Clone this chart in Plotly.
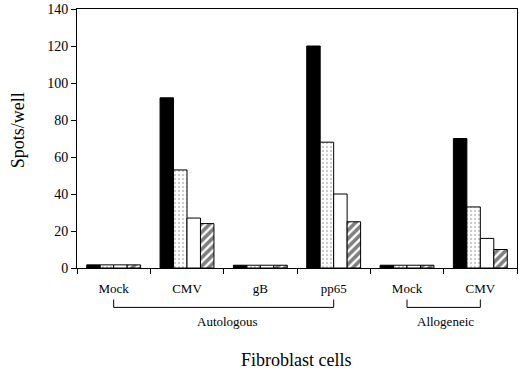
import plotly.graph_objects as go

categories = ["Mock", "CMV", "gB", "pp65", "Mock", "CMV"]
series_a = [1.7, 92, 1.5, 120, 1.5, 70]
series_b = [1.7, 53, 1.5, 68, 1.5, 33]
series_c = [1.7, 27, 1.5, 40, 1.5, 16]
series_d = [1.7, 24, 1.5, 25, 1.5, 10]
y_ticks = [0, 20, 40, 60, 80, 100, 120, 140]

x = list(range(len(categories)))
FONT = "Liberation Serif"

fig = go.Figure()
line = dict(color="black", width=1)
fig.add_bar(x=x, y=series_a, marker=dict(color="black", line=line))
fig.add_bar(x=x, y=series_b, marker=dict(color="white", line=line,
            pattern=dict(shape=".", fgcolor="#999999", bgcolor="white", size=4, solidity=0.28)))
fig.add_bar(x=x, y=series_c, marker=dict(color="white", line=line))
fig.add_bar(x=x, y=series_d, marker=dict(color="white", line=line,
            pattern=dict(shape="/", fgcolor="black", bgcolor="white", size=6, solidity=0.6)))

# plot area pixel geometry: left 77, right 518, top 5, bottom 268
PW, PH, B = 441, 263, 268
def py(ypix):
    return (B - ypix) / PH
def px(xpix):
    return (xpix - 77) / PW

shapes = []
for (a, b) in [(0, 3), (4, 5)]:
    for xv in (a, b):
        shapes.append(dict(type="line", xref="x", yref="paper", x0=xv, x1=xv,
                           y0=py(300), y1=py(308), line=dict(color="black", width=1)))
    shapes.append(dict(type="line", xref="x", yref="paper", x0=a, x1=b,
                       y0=py(308), y1=py(308), line=dict(color="black", width=1)))

def ann(text, xp, yp, size, angle=0):
    return dict(text=text, xref="paper", yref="paper", x=px(xp), y=py(yp),
                xanchor="center", yanchor="middle", showarrow=False, textangle=angle,
                font=dict(family=FONT, size=size, color="black"))

annotations = [
    ann("Autologous", 228, 322, 13),
    ann("Allogeneic", 446, 322, 13),
    ann("Fibroblast cells", 297, 361, 18),
    ann("Spots/well", 18, 128, 18, -90),
]

fig.update_layout(
    width=520, height=369,
    margin=dict(l=77, r=2, t=5, b=101),
    paper_bgcolor="white", plot_bgcolor="white",
    showlegend=False,
    barmode="group", bargap=0.265, bargroupgap=0,
    font=dict(family=FONT, size=13, color="black"),
    shapes=shapes, annotations=annotations,
    xaxis=dict(range=[-0.5, len(categories) - 0.5], tickvals=x, ticktext=categories,
               ticks="outside", ticklen=8, tickcolor="rgba(0,0,0,0)",
               minor=dict(ticks="outside", tick0=-0.5, dtick=1, ticklen=5, tickcolor="black", tickwidth=1),
               showline=True, mirror=True, linecolor="black", linewidth=1, showgrid=False, zeroline=False,
               tickfont=dict(family=FONT, size=13)),
    yaxis=dict(range=[0, 140], tickvals=y_ticks, ticks="outside", ticklen=5, tickcolor="black",
               ticklabeloverflow="allow",
               showline=True, mirror=True, linecolor="black", linewidth=1, showgrid=False, zeroline=False,
               tickfont=dict(family=FONT, size=14)),
)

fig.write_html("out.html", config={"displayModeBar": False},
               post_script="document.body.style.margin='0';document.body.style.overflow='hidden';")
